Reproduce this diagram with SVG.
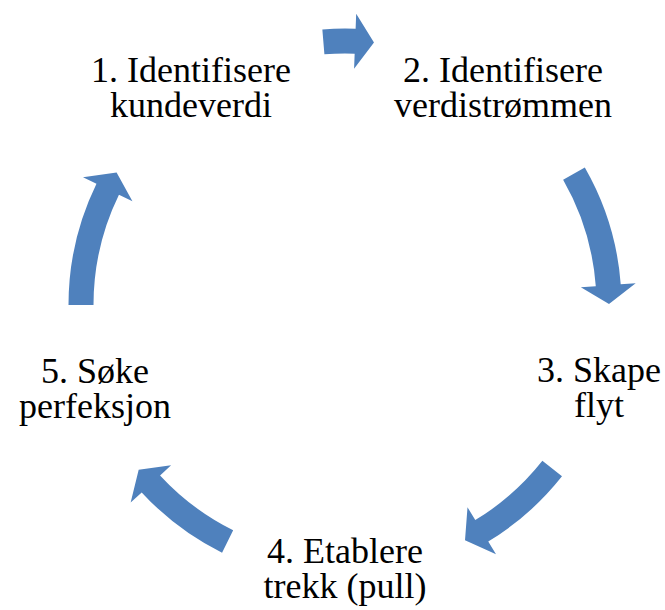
<svg xmlns="http://www.w3.org/2000/svg" width="665" height="610" viewBox="0 0 665 610">
  <style>
    .arrow { fill: #4F81BD; stroke: none; }
    .label { font-family: 'Liberation Serif', 'Tinos', 'Times New Roman', 'Times', 'DejaVu Serif', serif; font-size: 36px; fill: #000000; text-anchor: middle; }
  </style>
  <rect width="665" height="610" fill="#FFFFFF"/>

  <!-- curved block arrows on a ring centred at (345,305), r=264 -->
  <g id="connectors">
    <path class="arrow" d="M322.35,29.43 A276.5,276.5 0 0 1 355.61,28.70 L356.19,13.72 L373.97,42.59 L354.08,68.67 L354.66,53.69 A251.5,251.5 0 0 0 324.40,54.35 Z"/>
    <path class="arrow" d="M584.82,167.38 A276.5,276.5 0 0 1 620.72,284.27 L635.68,283.14 L609.00,304.08 L580.84,287.27 L595.79,286.14 A251.5,251.5 0 0 0 563.13,179.82 Z"/>
    <path class="arrow" d="M561.99,476.36 A276.5,276.5 0 0 1 488.24,541.51 L496.01,554.34 L465.01,540.14 L467.51,507.29 L475.28,520.12 A251.5,251.5 0 0 0 542.37,460.87 Z"/>
    <path class="arrow" d="M222.06,552.66 A276.5,276.5 0 0 1 141.69,492.39 L130.66,502.56 L138.68,469.70 L171.10,465.28 L160.07,475.45 A251.5,251.5 0 0 0 233.17,530.27 Z"/>
    <path class="arrow" d="M68.50,305.00 A276.5,276.5 0 0 1 96.48,183.79 L83.00,177.22 L116.60,172.60 L132.44,201.33 L118.95,194.75 A251.5,251.5 0 0 0 93.50,305.00 Z"/>
  </g>

  <g id="node1">
    <text class="label" x="191" y="82">1. Identifisere</text>
    <text class="label" x="191" y="117">kundeverdi</text>
  </g>
  <g id="node2">
    <text class="label" x="503" y="82">2. Identifisere</text>
    <text class="label" x="503" y="117">verdistrømmen</text>
  </g>
  <g id="node3">
    <text class="label" x="599" y="382">3. Skape</text>
    <text class="label" x="599" y="417">flyt</text>
  </g>
  <g id="node4">
    <text class="label" x="345" y="563">4. Etablere</text>
    <text class="label" x="345" y="598">trekk (pull)</text>
  </g>
  <g id="node5">
    <text class="label" x="95" y="383">5. Søke</text>
    <text class="label" x="95" y="418">perfeksjon</text>
  </g>
</svg>
